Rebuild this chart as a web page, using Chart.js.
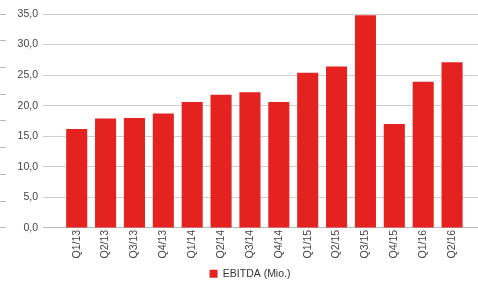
<!DOCTYPE html>
<html>
<head>
<meta charset="utf-8">
<script src="https://cdn.jsdelivr.net/npm/chart.js@4/dist/chart.umd.min.js"></script>
<style>
  html, body { margin: 0; padding: 0; background: #fff; overflow: hidden; }
  #wrap { width: 500px; height: 286px; }
</style>
</head>
<body>
<div id="wrap"><canvas id="chart"></canvas></div>
<script>
  const quarters = ["Q1/13", "Q2/13", "Q3/13", "Q4/13", "Q1/14", "Q2/14", "Q3/14",
                    "Q4/14", "Q1/15", "Q2/15", "Q3/15", "Q4/15", "Q1/16", "Q2/16"];
  const ebitda = [16.2, 17.9, 18.0, 18.7, 20.6, 21.8, 22.2,
                  20.6, 25.4, 26.4, 34.8, 17.0, 23.9, 27.1];
  const yTicks = [0, 5, 10, 15, 20, 25, 30, 35];

  Chart.defaults.font.family = "'Liberation Sans', Arial, sans-serif";
  Chart.defaults.font.size = 10.5;
  Chart.defaults.color = "#444";

  const ctx = document.getElementById("chart").getContext("2d");
  new Chart(ctx, {
    type: "bar",
    data: {
      datasets: [{
        label: "EBITDA (Mio.)",
        data: quarters.map((q, i) => ({ x: i, y: ebitda[i] })),
        backgroundColor: "#e42320",
        borderWidth: 0,
        categoryPercentage: 1,
        barPercentage: 0.73
      }]
    },
    options: {
      responsive: true,
      maintainAspectRatio: false,
      animation: false,
      layout: { padding: { top: 14, right: 0, bottom: -3, left: 0 } },
      plugins: {
        legend: {
          position: "bottom",
          labels: { boxWidth: 8, boxHeight: 8, padding: 8, color: "#333" }
        },
        tooltip: { enabled: false }
      },
      scales: {
        x: {
          type: "linear",
          offset: false,
          min: -1.167,
          max: 14.66,
          afterBuildTicks: s => { s.ticks = quarters.map((q, i) => ({ value: i })); },
          grid: { display: false, drawTicks: false, offset: false },
          border: { color: "#bbb" },
          ticks: {
            autoSkip: false,
            maxRotation: 90,
            minRotation: 90,
            padding: 2,
            callback: v => quarters[v]
          }
        },
        y: {
          min: 0,
          max: 35,
          weight: 0,
          afterBuildTicks: s => { s.ticks = yTicks.map(v => ({ value: v })); },
          afterFit: s => { s.width = 37; },
          grid: { color: "#cfcfcf", drawTicks: false },
          border: { display: false },
          ticks: {
            padding: 5,
            callback: v => v.toFixed(1).replace(".", ",")
          }
        },
        y2: {
          position: "left",
          weight: 1,
          min: 0,
          max: 8,
          grid: { drawOnChartArea: false, tickLength: 6, color: "#bbb" },
          border: { display: false },
          ticks: { display: false, stepSize: 1 }
        }
      }
    }
  });
</script>
</body>
</html>
